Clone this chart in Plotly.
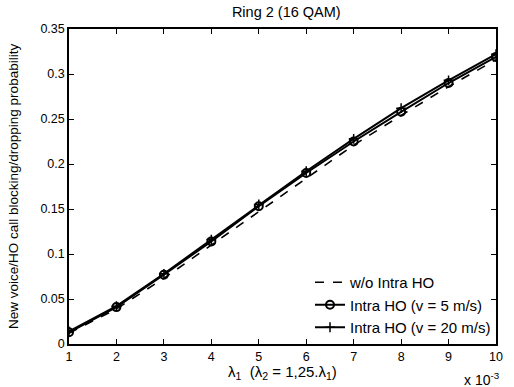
import plotly.graph_objects as go

x_vals = [1, 2, 3, 4, 5, 6, 7, 8, 9, 10]
no_intra = [0.012, 0.039, 0.073, 0.110, 0.148, 0.185, 0.221, 0.254, 0.286, 0.316]
intra_5 = [0.013, 0.041, 0.077, 0.114, 0.153, 0.190, 0.225, 0.258, 0.290, 0.319]
intra_20 = [0.014, 0.042, 0.078, 0.116, 0.155, 0.192, 0.228, 0.262, 0.293, 0.322]

x_ticks = [1, 2, 3, 4, 5, 6, 7, 8, 9, 10]
y_ticks = [0, 0.05, 0.1, 0.15, 0.2, 0.25, 0.3, 0.35]
y_tick_text = ["0", "0.05", "0.1", "0.15", "0.2", "0.25", "0.3", "0.35"]

fig = go.Figure()
fig.add_trace(go.Scatter(x=x_vals, y=no_intra, mode="lines", name="w/o Intra HO",
                         line=dict(color="black", width=1.6, dash="dash")))
fig.add_trace(go.Scatter(x=x_vals, y=intra_5, mode="lines+markers", name="Intra HO (v = 5 m/s)",
                         line=dict(color="black", width=2),
                         marker=dict(symbol="circle-open", size=8, color="black", line=dict(width=2))))
fig.add_trace(go.Scatter(x=x_vals, y=intra_20, mode="lines+markers", name="Intra HO (v = 20 m/s)",
                         line=dict(color="black", width=2),
                         marker=dict(symbol="cross-thin-open", size=7, color="black", line=dict(width=1.5, color="black"))))

axis_common = dict(showline=True, linecolor="black", linewidth=1.5, mirror="ticks",
                   ticks="inside", ticklen=5, tickcolor="black", showgrid=False, zeroline=False,
                   tickfont=dict(size=12.5, color="black"))

fig.update_layout(
    width=514, height=387,
    margin=dict(l=69, r=11, t=29, b=43),
    paper_bgcolor="white", plot_bgcolor="white",
    font=dict(family="Liberation Sans, Arial, sans-serif", size=12, color="black"),
    title=dict(text="Ring 2 (16 QAM)", x=0.557, xanchor="center", y=0.968, yanchor="middle",
               font=dict(size=14.5)),
    xaxis=dict(range=[1, 10], tickvals=x_ticks, **axis_common),
    yaxis=dict(range=[0, 0.35], tickvals=y_ticks, ticktext=y_tick_text, **axis_common),
    showlegend=True,
    legend=dict(x=1.0, y=0.0, xanchor="right", yanchor="bottom", bgcolor="rgba(255,255,255,0)",
                borderwidth=0, font=dict(size=15), tracegroupgap=0, itemwidth=30),
)

fig.add_annotation(text="λ<sub>1</sub>  (λ<sub>2</sub> = 1,25.λ<sub>1</sub>)", xref="paper", yref="paper",
                   x=0.50, y=-0.055, xanchor="center", yanchor="top", showarrow=False, font=dict(size=15))
fig.add_annotation(text="x 10<sup>-3</sup>", xref="paper", yref="paper",
                   x=1.015, y=-0.075, xanchor="right", yanchor="top", showarrow=False, font=dict(size=14))
fig.add_annotation(text="New voice/HO call blocking/dropping probability", xref="paper", yref="paper",
                   x=-0.13, y=0.5, xanchor="center", yanchor="middle", textangle=-90, showarrow=False,
                   font=dict(size=13.5))

fig.write_html("out.html")
